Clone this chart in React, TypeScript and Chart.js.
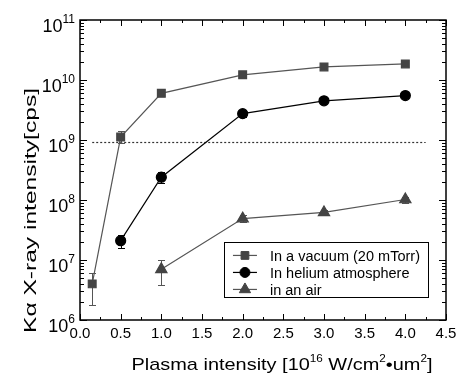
import React, { useEffect, useRef } from "react";
import { Chart, registerables } from "chart.js";

Chart.register(...registerables);

const vacuumX = [0.15, 0.5, 1.0, 2.0, 3.0, 4.0];
const vacuumY = [4.0e6, 1.12e9, 6.0e9, 1.22e10, 1.65e10, 1.85e10];
const vacuumLow = [1.8e6, 0.9e9, null, null, null, null];
const vacuumHigh = [6.1e6, 1.42e9, null, null, null, null];

const heliumX = [0.5, 1.0, 2.0, 3.0, 4.0];
const heliumY = [2.1e7, 2.4e8, 2.75e9, 4.5e9, 5.5e9];
const heliumLow = [1.6e7, 1.9e8, 2.4e9, null, null];
const heliumHigh = [2.6e7, 2.95e8, 3.1e9, null, null];

const airX = [1.0, 2.0, 3.0, 4.0];
const airY = [7.0e6, 4.9e7, 6.2e7, 1.02e8];
const airLow = [3.8e6, 4.3e7, 5.6e7, 9.0e7];
const airHigh = [1.0e7, 5.6e7, 6.9e7, 1.12e8];

const thresholdValue = 9.2e8;
const thresholdRange = [0.15, 4.25];

const xTicks = [0.0, 0.5, 1.0, 1.5, 2.0, 2.5, 3.0, 3.5, 4.0, 4.5];
const yDecades = [6, 7, 8, 9, 10, 11];

const xTitleParts: [string, boolean][] = [
  ["Plasma intensity [10", false],
  ["16", true],
  [" W/cm", false],
  ["2", true],
  ["\u2022um", false],
  ["2", true],
  ["]", false],
];
const yTitle = "K\u03b1 X-ray intensity[cps]";

const legendLabels = ["In a vacuum (20 mTorr)", "In helium atmosphere", "in an air"];
const seriesColors = ["#444444", "#000000", "#444444"];
const lineColors = ["#555555", "#000000", "#555555"];
const pointStyles = ["rect", "circle", "triangle"];
const pointRadii = [5.5, 5, 6.5];

const FONT = "'Liberation Sans', Arial, sans-serif";

type Part = [string, boolean];

function richWidth(ctx: CanvasRenderingContext2D, parts: Part[], size: number, supSize: number) {
  let w = 0;
  for (const [t, sup] of parts) {
    ctx.font = `${sup ? supSize : size}px ${FONT}`;
    w += ctx.measureText(t).width;
  }
  return w;
}

function drawRich(
  ctx: CanvasRenderingContext2D,
  parts: Part[],
  x: number,
  y: number,
  size: number,
  supSize: number,
  align: "left" | "center" | "right",
  supRise: number,
  targetWidth?: number
) {
  const w = richWidth(ctx, parts, size, supSize);
  const sx = targetWidth ? targetWidth / w : 1;
  const tw = w * sx;
  const startX = align === "left" ? x : align === "center" ? x - tw / 2 : x - tw;
  ctx.save();
  ctx.translate(startX, y);
  ctx.scale(sx, 1);
  ctx.textAlign = "left";
  ctx.textBaseline = "alphabetic";
  let cx = 0;
  for (const [t, sup] of parts) {
    ctx.font = `${sup ? supSize : size}px ${FONT}`;
    ctx.fillText(t, cx, sup ? -supRise : 0);
    cx += ctx.measureText(t).width;
  }
  ctx.restore();
}

function drawMarker(ctx: CanvasRenderingContext2D, style: string, r: number, x: number, y: number) {
  ctx.beginPath();
  if (style === "rect") {
    const s = r * Math.SQRT1_2;
    ctx.rect(x - s, y - s, 2 * s, 2 * s);
  } else if (style === "circle") {
    ctx.arc(x, y, r, 0, Math.PI * 2);
  } else {
    const side = (3 * r) / Math.sqrt(3);
    const h = (side * Math.sqrt(3)) / 2;
    ctx.moveTo(x, y - (2 * h) / 3);
    ctx.lineTo(x + side / 2, y + h / 3);
    ctx.lineTo(x - side / 2, y + h / 3);
    ctx.closePath();
  }
  ctx.fill();
  ctx.stroke();
}

const errorBars = [
  { xs: vacuumX, lo: vacuumLow, hi: vacuumHigh, color: "#555555" },
  { xs: heliumX, lo: heliumLow, hi: heliumHigh, color: "#000000" },
  { xs: airX, lo: airLow, hi: airHigh, color: "#555555" },
];

const customPlugin = {
  id: "custom",
  beforeDatasetsDraw(chart: any) {
    const ctx: CanvasRenderingContext2D = chart.ctx;
    const xs = chart.scales.x;
    const ys = chart.scales.y;
    ctx.save();
    ctx.strokeStyle = "#333333";
    ctx.lineWidth = 1.2;
    ctx.setLineDash([2, 2]);
    ctx.beginPath();
    const ty = Math.round(ys.getPixelForValue(thresholdValue)) + 0.5;
    ctx.moveTo(xs.getPixelForValue(thresholdRange[0]), ty);
    ctx.lineTo(xs.getPixelForValue(thresholdRange[1]), ty);
    ctx.stroke();
    ctx.setLineDash([]);
    ctx.lineWidth = 1;
    for (const eb of errorBars) {
      ctx.strokeStyle = eb.color;
      eb.xs.forEach((xv, i) => {
        const lo = eb.lo[i];
        const hi = eb.hi[i];
        if (lo == null || hi == null) return;
        const px = Math.round(xs.getPixelForValue(xv)) + 0.5;
        const y1 = Math.round(ys.getPixelForValue(lo)) + 0.5;
        const y2 = Math.round(ys.getPixelForValue(hi)) + 0.5;
        ctx.beginPath();
        ctx.moveTo(px, y1);
        ctx.lineTo(px, y2);
        ctx.moveTo(px - 3.5, y1);
        ctx.lineTo(px + 3.5, y1);
        ctx.moveTo(px - 3.5, y2);
        ctx.lineTo(px + 3.5, y2);
        ctx.stroke();
      });
    }
    ctx.restore();
  },
  afterDraw(chart: any) {
    const ctx: CanvasRenderingContext2D = chart.ctx;
    const xs = chart.scales.x;
    const ys = chart.scales.y;
    const a = chart.chartArea;
    ctx.save();
    ctx.strokeStyle = "#000";
    ctx.lineWidth = 1.5;
    ctx.strokeRect(a.left, a.top, a.right - a.left, a.bottom - a.top);
    ctx.lineWidth = 1;
    ctx.beginPath();
    for (let k = 0; k <= 18; k++) {
      const v = k * 0.25;
      const px = Math.round(xs.getPixelForValue(v)) + 0.5;
      const len = k % 2 === 0 ? 6 : 3;
      ctx.moveTo(px, a.bottom);
      ctx.lineTo(px, a.bottom - len);
      ctx.moveTo(px, a.top);
      ctx.lineTo(px, a.top + len);
    }
    for (const d of yDecades) {
      for (let m = 1; m <= 9; m++) {
        if (d === 11 && m > 1) break;
        const v = m * Math.pow(10, d);
        const py = Math.round(ys.getPixelForValue(v)) + 0.5;
        const len = m === 1 ? 7 : 4;
        ctx.moveTo(a.left, py);
        ctx.lineTo(a.left + len, py);
        ctx.moveTo(a.right, py);
        ctx.lineTo(a.right - len, py);
      }
    }
    ctx.stroke();
    ctx.fillStyle = "#000";
    ctx.font = `15px ${FONT}`;
    ctx.textAlign = "center";
    ctx.textBaseline = "alphabetic";
    for (const v of xTicks) {
      ctx.fillText(v.toFixed(1), xs.getPixelForValue(v), a.bottom + 18);
    }
    for (const d of yDecades) {
      const py = ys.getPixelForValue(Math.pow(10, d));
      drawRich(ctx, [["10", false], [String(d), true]], a.left - 5, py + 12, 18, 12, "right", 9);
    }
    // x title
    drawRich(ctx, xTitleParts, 282, 370, 17, 10, "center", 8, 301);
    // y title
    ctx.save();
    ctx.translate(36, 210.5);
    ctx.rotate(-Math.PI / 2);
    drawRich(ctx, [[yTitle, false]], 0, 0, 17, 10, "center", 0, 245);
    ctx.restore();
    // legend
    const lx = xs.getPixelForValue(1.77);
    const lr = xs.getPixelForValue(4.28);
    const ltop = ys.getPixelForValue(2.0e7);
    const lbot = ys.getPixelForValue(2.4e6);
    ctx.fillStyle = "#fff";
    ctx.fillRect(lx, ltop, lr - lx, lbot - ltop);
    ctx.strokeStyle = "#000";
    ctx.lineWidth = 1;
    ctx.strokeRect(Math.round(lx) + 0.5, Math.round(ltop) + 0.5, Math.round(lr - lx), Math.round(lbot - ltop));
    const firstW = richWidth(ctx, [[legendLabels[0], false]], 14, 10);
    const legendScale = 150 / firstW;
    legendLabels.forEach((label, i) => {
      const cy = ltop + 13.5 + i * 17;
      ctx.strokeStyle = lineColors[i];
      ctx.lineWidth = 1.2;
      ctx.beginPath();
      ctx.moveTo(lx + 9, cy);
      ctx.lineTo(lx + 33, cy);
      ctx.stroke();
      ctx.fillStyle = seriesColors[i];
      ctx.strokeStyle = seriesColors[i];
      ctx.lineWidth = 1;
      drawMarker(ctx, pointStyles[i], pointRadii[i], lx + 21, cy);
      ctx.fillStyle = "#000";
      const w = richWidth(ctx, [[label, false]], 14, 10);
      drawRich(ctx, [[label, false]], lx + 46, cy + 5.5, 14, 10, "left", 0, w * legendScale);
    });
    ctx.restore();
  },
};

function makeData(xsArr: number[], ysArr: number[]) {
  return xsArr.map((x, i) => ({ x, y: ysArr[i] }));
}

export default function App() {
  const ref = useRef<HTMLCanvasElement | null>(null);
  useEffect(() => {
    if (!ref.current) return;
    const series = [
      makeData(vacuumX, vacuumY),
      makeData(heliumX, heliumY),
      makeData(airX, airY),
    ];
    const chart = new Chart(ref.current, {
      type: "line",
      data: {
        datasets: series.map((d, i) => ({
          label: legendLabels[i],
          data: d,
          borderColor: lineColors[i],
          borderWidth: 1.2,
          backgroundColor: seriesColors[i],
          pointBackgroundColor: seriesColors[i],
          pointBorderColor: seriesColors[i],
          pointStyle: pointStyles[i] as any,
          pointRadius: pointRadii[i],
          pointHoverRadius: pointRadii[i],
          fill: false,
          tension: 0,
        })),
      },
      options: {
        animation: false,
        responsive: false,
        maintainAspectRatio: false,
        layout: { padding: { left: 80, right: 13, top: 20, bottom: 53 } },
        plugins: { legend: { display: false }, tooltip: { enabled: false } },
        scales: {
          x: { type: "linear", min: 0, max: 4.5, display: false },
          y: { type: "logarithmic", min: 1e6, max: 1e11, display: false },
        },
      },
      plugins: [customPlugin],
    });
    return () => chart.destroy();
  }, []);
  return (
    <div style={{ position: "absolute", left: 0, top: 0, width: 459, height: 373, background: "#fff" }}>
      <canvas ref={ref} width={459} height={373} style={{ width: 459, height: 373 }} />
    </div>
  );
}
